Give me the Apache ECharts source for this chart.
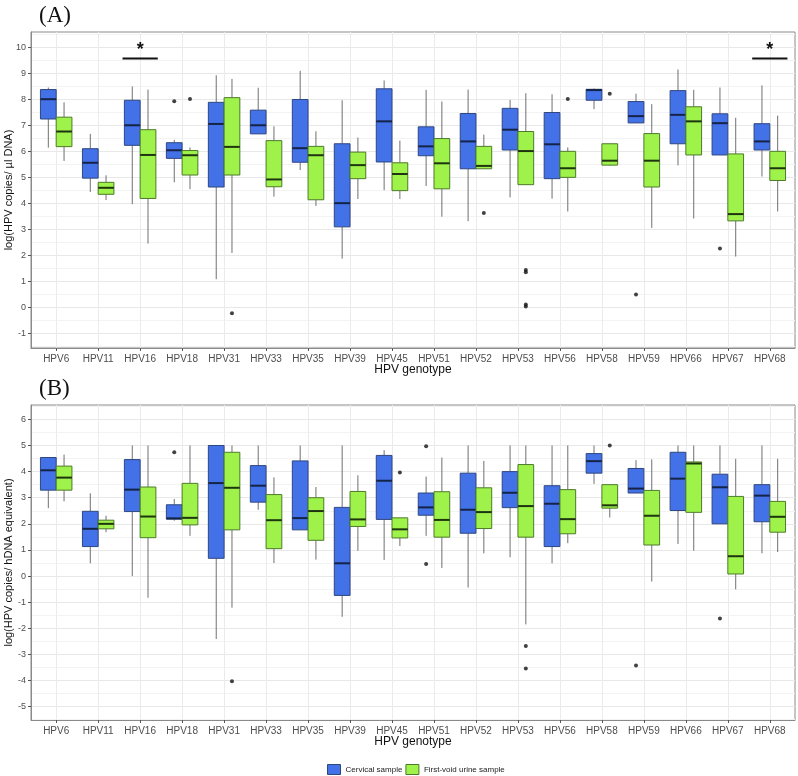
<!DOCTYPE html>
<html>
<head>
<meta charset="utf-8">
<script src="https://cdn.jsdelivr.net/npm/echarts@6/dist/echarts.min.js"></script>
<style>html,body{margin:0;padding:0;background:#fff;}#c{width:798px;height:776px;}</style>
</head>
<body>
<div id="c"></div>
<script>
const categories = ['HPV6','HPV11','HPV16','HPV18','HPV31','HPV33','HPV35','HPV39','HPV45','HPV51','HPV52','HPV53','HPV56','HPV58','HPV59','HPV66','HPV67','HPV68'];
const seriesNames = ['Cervical sample', 'First-void urine sample'];

// Panel A, log(HPV copies/ µl DNA): [lower whisker, Q1, median, Q3, upper whisker]
const copiesCervical = [
  [6.14, 7.24, 8.00, 8.37, 8.45],
  [4.44, 4.97, 5.56, 6.10, 6.67],
  [3.97, 6.23, 7.00, 7.96, 8.49],
  [4.81, 5.73, 6.04, 6.33, 6.44],
  [1.09, 4.63, 7.05, 7.88, 8.92],
  [6.67, 6.67, 7.00, 7.58, 8.44],
  [5.28, 5.58, 6.12, 7.99, 9.09],
  [1.88, 3.10, 4.01, 6.29, 7.96],
  [4.51, 5.59, 7.15, 8.40, 8.72],
  [4.67, 5.83, 6.19, 6.94, 8.36],
  [3.32, 5.33, 6.38, 7.45, 8.37],
  [4.23, 6.05, 6.83, 7.65, 7.97],
  [4.18, 4.95, 6.27, 7.49, 8.19],
  [7.62, 7.96, 8.35, 8.38, 8.41],
  [7.09, 7.09, 7.35, 7.91, 8.21],
  [5.46, 6.29, 7.40, 8.33, 9.14],
  [5.86, 5.86, 7.08, 7.44, 8.45],
  [5.03, 6.05, 6.38, 7.06, 8.53]
];
const copiesUrine = [
  [5.63, 6.18, 6.76, 7.31, 7.88],
  [4.13, 4.35, 4.60, 4.81, 5.08],
  [2.46, 4.19, 5.86, 6.83, 8.37],
  [4.55, 5.09, 5.85, 6.03, 6.15],
  [2.10, 5.09, 6.17, 8.06, 8.78],
  [4.26, 4.64, 4.92, 6.41, 6.96],
  [3.90, 4.14, 5.85, 6.19, 6.77],
  [4.17, 4.95, 5.47, 5.97, 6.53],
  [4.17, 4.49, 5.13, 5.56, 6.41],
  [3.49, 4.56, 5.54, 6.49, 7.91],
  [5.33, 5.33, 5.44, 6.19, 6.64],
  [4.72, 4.72, 6.01, 6.76, 8.23],
  [3.69, 5.00, 5.35, 6.00, 6.15],
  [5.44, 5.47, 5.64, 6.29, 6.29],
  [3.06, 4.63, 5.64, 6.68, 7.81],
  [3.42, 5.86, 7.15, 7.71, 8.36],
  [1.96, 3.33, 3.59, 5.90, 7.29],
  [3.69, 4.88, 5.35, 6.00, 7.37]
];
// outliers: [category index, value]
const copiesCervicalOut = [[3, 7.92], [14, 0.50], [16, 2.27]];
const copiesUrineOut = [[3, 8.01], [4, -0.22], [10, 3.63], [11, 1.44], [11, 1.36], [11, 0.12], [11, 0.04], [12, 8.01], [13, 8.21]];
// significance marks: [category index, bar value, star value]
const copiesSignif = [[2, 9.56, 9.88], [17, 9.56, 9.88]];

// Panel B, log(HPV copies/ hDNA equivalent)
const hdnaCervical = [
  [2.60, 3.29, 4.05, 4.54, 4.56],
  [0.49, 1.13, 1.81, 2.48, 3.17],
  [0.00, 2.47, 3.31, 4.46, 5.00],
  [2.12, 2.18, 2.21, 2.73, 2.95],
  [-2.41, 0.68, 3.56, 5.00, 5.00],
  [2.54, 2.83, 3.46, 4.23, 5.00],
  [1.77, 1.77, 2.22, 4.41, 5.00],
  [-1.56, -0.74, 0.49, 2.63, 5.00],
  [0.62, 2.17, 3.65, 4.62, 4.82],
  [1.54, 2.33, 2.63, 3.18, 3.81],
  [-0.44, 1.64, 2.54, 3.94, 5.00],
  [0.72, 2.62, 3.19, 4.00, 5.00],
  [0.49, 1.13, 2.77, 3.46, 5.00],
  [3.53, 3.94, 4.40, 4.69, 5.00],
  [3.18, 3.18, 3.35, 4.12, 4.44],
  [1.23, 2.51, 3.73, 4.74, 5.00],
  [2.00, 2.00, 3.40, 3.90, 5.00],
  [0.87, 2.08, 3.08, 3.50, 5.00]
];
const hdnaUrine = [
  [2.86, 3.29, 3.77, 4.21, 4.65],
  [1.68, 1.81, 2.00, 2.14, 2.31],
  [-0.83, 1.47, 2.28, 3.41, 5.00],
  [1.54, 1.96, 2.23, 3.55, 5.00],
  [-1.21, 1.77, 3.38, 4.74, 5.00],
  [0.50, 1.05, 2.14, 3.12, 3.78],
  [0.63, 1.37, 2.49, 3.00, 3.41],
  [0.97, 1.90, 2.17, 3.24, 3.86],
  [1.15, 1.46, 1.79, 2.23, 2.23],
  [0.31, 1.49, 2.15, 3.23, 4.54],
  [0.87, 1.82, 2.45, 3.38, 4.41],
  [-1.85, 1.49, 2.68, 4.27, 5.00],
  [1.26, 1.62, 2.18, 3.31, 5.00],
  [2.24, 2.60, 2.71, 3.50, 3.50],
  [-0.21, 1.19, 2.31, 3.28, 4.47],
  [0.97, 2.44, 4.31, 4.37, 5.00],
  [-0.51, 0.08, 0.76, 3.05, 4.49],
  [0.92, 1.68, 2.27, 2.86, 4.49]
];
const hdnaCervicalOut = [[3, 4.74], [9, 4.97], [9, 0.46], [14, -3.42], [16, -1.62]];
const hdnaUrineOut = [[4, -4.03], [8, 3.97], [11, -2.68], [11, -3.54], [13, 5.00]];

const yTicksA = [-1, 0, 1, 2, 3, 4, 5, 6, 7, 8, 9, 10];
const yTicksB = [-5, -4, -3, -2, -1, 0, 1, 2, 3, 4, 5, 6];
const yRangeA = [-1.55, 10.58];
const yRangeB = [-5.51, 6.55];

const FONT = '"Liberation Sans", Arial, sans-serif';
const BLUE = '#4271E8', BLUE_S = '#2f467f', BLUE_M = '#152347';
const GREEN = '#9EF24A', GREEN_S = '#4d7a2a', GREEN_M = '#1f3510';
const DODGE = 0.1875, HALF = 0.1875;
const catIdx = categories.map((c, i) => i);
const minors = r => { const out = []; for (let v = Math.ceil(r[0] - 0.5) + 0.5; v < r[1]; v += 1) out.push(v); return out; };

function boxData(stats) { return stats.map((s, i) => [i].concat(s)); }
function outData(pts, off) { return pts.map(p => [p[0] + off, p[1]]); }

function boxRender(off, fill, stroke, med) {
  return function (params, api) {
    const c = api.value(0) + off;
    const lo = api.coord([c, api.value(1)]);
    const q1 = api.coord([c, api.value(2)]);
    const md = api.coord([c, api.value(3)]);
    const q3 = api.coord([c, api.value(4)]);
    const hi = api.coord([c, api.value(5)]);
    const l = api.coord([c - HALF, 0])[0];
    const r = api.coord([c + HALF, 0])[0];
    const ws = { stroke: '#707070', lineWidth: 1 };
    return { type: 'group', children: [
      { type: 'line', shape: { x1: lo[0], y1: q1[1], x2: lo[0], y2: lo[1] }, style: ws },
      { type: 'line', shape: { x1: hi[0], y1: q3[1], x2: hi[0], y2: hi[1] }, style: ws },
      { type: 'rect', shape: { x: l, y: q3[1], width: r - l, height: q1[1] - q3[1] }, style: { fill: fill, stroke: stroke, lineWidth: 1 } },
      { type: 'line', shape: { x1: l, y1: md[1], x2: r, y2: md[1] }, style: { stroke: med, lineWidth: 2 } }
    ] };
  };
}
function signifRender(params, api) {
  const c = api.value(0);
  const a = api.coord([c - 0.42, api.value(1)]);
  const b = api.coord([c + 0.42, api.value(1)]);
  const s = api.coord([c, api.value(2)]);
  return { type: 'group', children: [
    { type: 'line', shape: { x1: a[0], y1: a[1], x2: b[0], y2: b[1] }, style: { stroke: '#111', lineWidth: 2 } },
    { type: 'text', style: { x: s[0], y: s[1], text: '*', fill: '#111', font: 'bold 18px ' + FONT, textAlign: 'center', textVerticalAlign: 'middle' } }
  ] };
}

function xAxisFor(g) {
  return {
    type: 'value', gridIndex: g, min: -0.6, max: 17.6,
    name: 'HPV genotype', nameLocation: 'middle', nameGap: 16, nameMoveOverlap: false,
    nameTextStyle: { fontFamily: FONT, fontSize: 12, color: '#111' },
    axisLine: { show: true, onZero: false, lineStyle: { color: '#8a8a8a' } },
    axisTick: { show: true, length: 3, customValues: catIdx, lineStyle: { color: '#555' } },
    axisLabel: { customValues: catIdx, formatter: v => categories[Math.round(v)], fontFamily: FONT, fontSize: 10, color: '#4d4d4d', margin: 6 },
    splitLine: { show: true, lineStyle: { color: '#ebebeb', width: 1 } }
  };
}
function yAxisFor(g, range, ticks, title) {
  return [{
    type: 'value', gridIndex: g, min: range[0], max: range[1],
    name: title, nameLocation: 'middle', nameGap: 17, nameRotate: 90, nameMoveOverlap: false,
    nameTextStyle: { fontFamily: FONT, fontSize: 11, color: '#111' },
    axisLine: { show: true, onZero: false, lineStyle: { color: '#8a8a8a' } },
    axisTick: { show: true, length: 3, customValues: ticks, lineStyle: { color: '#555' } },
    axisLabel: { customValues: ticks, fontFamily: FONT, fontSize: 9, color: '#4d4d4d', margin: 5 },
    splitLine: { show: true, lineStyle: { color: '#e8e8e8', width: 1 } }
  }, {
    type: 'value', gridIndex: g, min: range[0], max: range[1], position: 'left',
    axisLine: { show: false, onZero: false }, axisLabel: { show: false },
    axisTick: { show: false, customValues: minors(range) },
    splitLine: { show: true, lineStyle: { color: '#f3f3f3', width: 1 } }
  }];
}

function panelSeries(g, cerv, urine, cervOut, urineOut) {
  const xi = g, yi = g * 2;
  return [
    { type: 'custom', name: seriesNames[0], xAxisIndex: xi, yAxisIndex: yi, renderItem: boxRender(-DODGE, BLUE, BLUE_S, BLUE_M),
      encode: { x: 0, y: [1, 2, 3, 4, 5] }, itemStyle: { color: BLUE }, data: boxData(cerv), z: 3 },
    { type: 'custom', name: seriesNames[1], xAxisIndex: xi, yAxisIndex: yi, renderItem: boxRender(DODGE, GREEN, GREEN_S, GREEN_M),
      encode: { x: 0, y: [1, 2, 3, 4, 5] }, itemStyle: { color: GREEN }, data: boxData(urine), z: 3 },
    { type: 'scatter', name: seriesNames[0], xAxisIndex: xi, yAxisIndex: yi, symbolSize: 4, itemStyle: { color: '#111' },
      data: outData(cervOut, -DODGE), z: 4, silent: true },
    { type: 'scatter', name: seriesNames[1], xAxisIndex: xi, yAxisIndex: yi, symbolSize: 4, itemStyle: { color: '#111' },
      data: outData(urineOut, DODGE), z: 4, silent: true }
  ];
}

const option = {
  animation: false,
  backgroundColor: '#fff',
  textStyle: { fontFamily: FONT },
  title: [
    { text: '(A)', left: 39, top: 4, padding: 0, textStyle: { fontFamily: '"Liberation Serif", "Times New Roman", serif', fontSize: 23, fontWeight: 'normal', color: '#111' } },
    { text: '(B)', left: 39, top: 377, padding: 0, textStyle: { fontFamily: '"Liberation Serif", "Times New Roman", serif', fontSize: 23, fontWeight: 'normal', color: '#111' } }
  ],
  legend: {
    top: 764, left: 327, padding: 0, itemWidth: 13, itemHeight: 10, itemGap: 3,
    textStyle: { fontFamily: FONT, fontSize: 8, color: '#222' },
    data: [
      { name: seriesNames[0], icon: 'rect', itemStyle: { color: BLUE, borderColor: BLUE_S, borderWidth: 1 } },
      { name: seriesNames[1], icon: 'rect', itemStyle: { color: GREEN, borderColor: GREEN_S, borderWidth: 1 } }
    ]
  },
  grid: [
    { left: 31, right: 3, top: 32, height: 316, show: true, borderColor: '#8a8a8a', borderWidth: 1, backgroundColor: 'transparent', outerBoundsMode: 'none', containLabel: false },
    { left: 31, right: 3, top: 405, height: 315, show: true, borderColor: '#8a8a8a', borderWidth: 1, backgroundColor: 'transparent', outerBoundsMode: 'none', containLabel: false }
  ],
  xAxis: [xAxisFor(0), xAxisFor(1)],
  yAxis: yAxisFor(0, yRangeA, yTicksA, 'log(HPV copies/ µl DNA)').concat(yAxisFor(1, yRangeB, yTicksB, 'log(HPV copies/ hDNA equivalent)')),
  series: panelSeries(0, copiesCervical, copiesUrine, copiesCervicalOut, copiesUrineOut)
    .concat(panelSeries(1, hdnaCervical, hdnaUrine, hdnaCervicalOut, hdnaUrineOut))
    .concat([{ type: 'custom', name: 'signif', xAxisIndex: 0, yAxisIndex: 0, renderItem: signifRender,
      encode: { x: 0, y: [1, 2] }, data: copiesSignif, z: 5, silent: true }])
};
const chart = echarts.init(document.getElementById('c'), null, { renderer: 'canvas' });
chart.setOption(option);
</script>
</body>
</html>
